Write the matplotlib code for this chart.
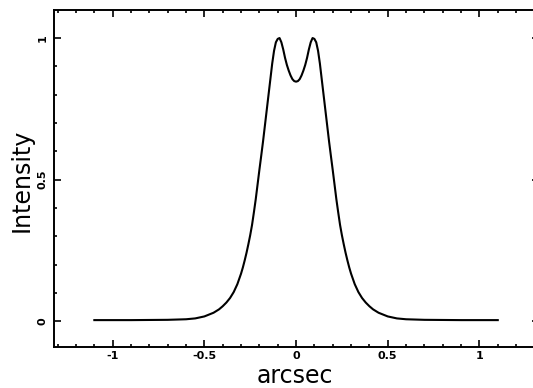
import numpy as np
import matplotlib
matplotlib.use('Agg')
import matplotlib.pyplot as plt
from matplotlib.ticker import MultipleLocator

# profile (arcsec, normalised intensity)
offset = [-1.10, -0.90, -0.70, -0.60, -0.55, -0.50, -0.45, -0.42, -0.40, -0.38,
          -0.36, -0.34, -0.32, -0.30, -0.29, -0.28, -0.27, -0.26, -0.25, -0.24,
          -0.23, -0.22, -0.21, -0.20, -0.19, -0.18, -0.17, -0.16, -0.15, -0.14,
          -0.13, -0.12, -0.11, -0.10, -0.09, -0.08, -0.07, -0.06, -0.05, -0.04,
          -0.03, -0.02, -0.01, 0.00,
          0.01, 0.02, 0.03, 0.04, 0.05, 0.06, 0.07, 0.08, 0.09, 0.10,
          0.11, 0.12, 0.13, 0.14, 0.15, 0.16, 0.17, 0.18, 0.19, 0.20,
          0.21, 0.22, 0.23, 0.24, 0.25, 0.26, 0.27, 0.28, 0.29, 0.30,
          0.32, 0.34, 0.36, 0.38, 0.40, 0.42, 0.45, 0.50, 0.55, 0.60,
          0.70, 0.90, 1.10]
intensity = [0.004, 0.004, 0.005, 0.007, 0.010, 0.017, 0.030, 0.042, 0.053, 0.066,
             0.082, 0.103, 0.131, 0.168, 0.190, 0.215, 0.242, 0.272, 0.304, 0.340,
             0.384, 0.430, 0.482, 0.534, 0.584, 0.635, 0.690, 0.745, 0.800, 0.855,
             0.910, 0.955, 0.985, 0.997, 1.000, 0.985, 0.960, 0.930, 0.905, 0.885,
             0.868, 0.855, 0.848, 0.846,
             0.848, 0.855, 0.868, 0.885, 0.905, 0.930, 0.960, 0.985, 1.000, 0.997,
             0.985, 0.955, 0.910, 0.855, 0.800, 0.745, 0.690, 0.635, 0.584, 0.534,
             0.482, 0.430, 0.384, 0.340, 0.304, 0.272, 0.242, 0.215, 0.190, 0.168,
             0.131, 0.103, 0.082, 0.066, 0.053, 0.042, 0.030, 0.017, 0.010, 0.007,
             0.005, 0.004, 0.004]

fig = plt.figure(figsize=(5.33, 3.88), dpi=100)
# right spine sits just past the image edge, as in the reference
ax = fig.add_axes([0.1013, 0.1049, 0.9100, 0.8693])

ax.plot(offset, intensity, color='black', lw=1.5)

ax.set_xlim(-1.32, 1.325)
ax.set_ylim(-0.092, 1.099)

ax.xaxis.set_major_locator(MultipleLocator(0.5))
ax.xaxis.set_minor_locator(MultipleLocator(0.1))
ax.yaxis.set_major_locator(MultipleLocator(0.5))
ax.yaxis.set_minor_locator(MultipleLocator(0.1))
ax.xaxis.set_major_formatter(plt.FuncFormatter(lambda v, p: '%g' % v))
ax.yaxis.set_major_formatter(plt.FuncFormatter(lambda v, p: '%g' % v))

for s in ax.spines.values():
    s.set_linewidth(1.4)
ax.tick_params(which='both', direction='in', top=True, right=True, width=1.2)
ax.tick_params(which='major', length=4.8)
ax.tick_params(which='minor', length=2.4)
ax.tick_params(axis='x', labelsize=8, pad=2.5)
ax.tick_params(axis='y', labelsize=8, pad=4.5)
for lab in ax.get_xticklabels():
    lab.set_fontweight('bold')
for lab in ax.get_yticklabels():
    lab.set_fontweight('bold')
    lab.set_rotation(90)
    lab.set_va('center')

ax.set_xlabel('arcsec', fontsize=17)
ax.xaxis.label.set_va('baseline')
ax.xaxis.set_label_coords(0.497, -0.106)
ax.set_ylabel('Intensity', fontsize=17)
ax.yaxis.label.set_va('baseline')
ax.yaxis.set_label_coords(-0.053, 0.496)

fig.savefig('out.png', dpi=100)
